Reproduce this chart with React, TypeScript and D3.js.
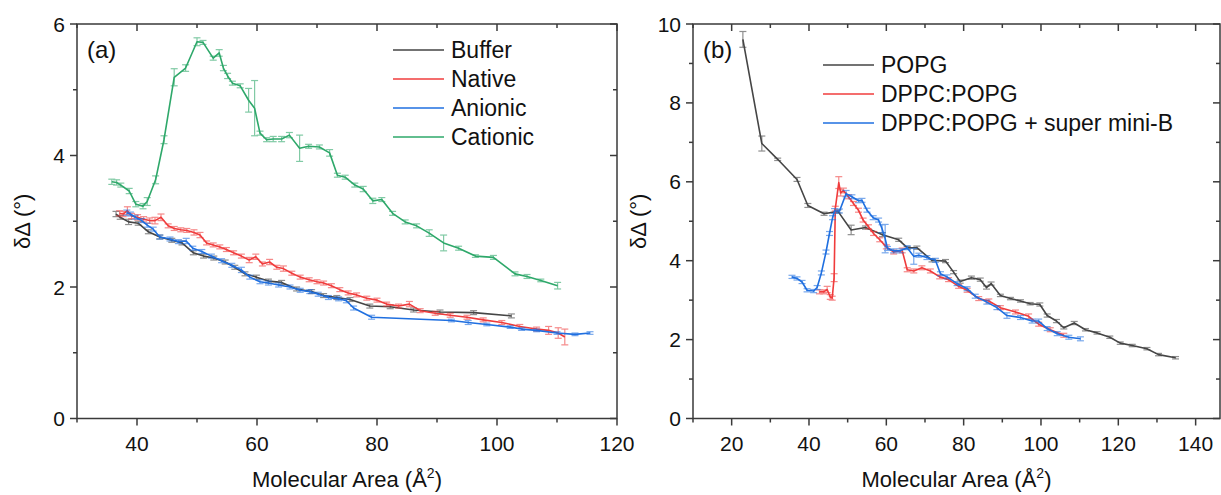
import React from 'react';
import * as d3 from 'd3';

type Pt = [number, number, number]; // [molecular area, δΔ, error]

// ---------- Panel (a) data ----------
const bufferA: Pt[] = [
  [36.5,3.11,0.04],[37.2,3.06,0.03],[38.6,2.99,0.04],[40.2,2.97,0.03],[41.9,2.84,0.03],[43.8,2.76,0.03],
  [45.8,2.71,0.03],[47.5,2.67,0.03],[49.4,2.52,0.03],[51.1,2.47,0.03],[52.8,2.44,0.03],[54.7,2.38,0.03],
  [56.3,2.30,0.03],[58.0,2.20,0.03],[59.9,2.15,0.03],[61.9,2.09,0.03],[64.1,2.07,0.03],[66.6,1.97,0.03],
  [69.1,1.93,0.03],[71.1,1.87,0.03],[73.3,1.84,0.03],[75.5,1.81,0.03],[78.8,1.71,0.03],[82.2,1.70,0.03],
  [86.1,1.65,0.03],[90.5,1.62,0.03],[96.1,1.61,0.03],[102.4,1.56,0.03]
];
const nativeA: Pt[] = [
  [37.1,3.12,0.04],[37.7,3.11,0.04],[38.4,3.16,0.06],[39.1,3.08,0.04],[40.1,3.06,0.04],[41.1,3.03,0.04],
  [42.1,3.01,0.04],[43.0,3.01,0.05],[44.0,3.06,0.05],[45.2,2.93,0.03],[46.2,2.89,0.03],[47.3,2.87,0.03],
  [48.3,2.86,0.03],[49.5,2.83,0.04],[50.5,2.79,0.04],[51.6,2.67,0.03],[52.7,2.64,0.03],[53.8,2.61,0.03],
  [54.9,2.57,0.03],[56.1,2.52,0.03],[57.4,2.47,0.03],[58.7,2.41,0.04],[59.8,2.46,0.04],[60.9,2.35,0.03],
  [62.1,2.38,0.04],[63.3,2.30,0.03],[64.4,2.28,0.04],[65.8,2.21,0.03],[67.2,2.15,0.03],[68.7,2.11,0.03],
  [70.0,2.08,0.03],[71.1,2.06,0.03],[72.4,2.02,0.03],[73.8,1.96,0.03],[75.2,1.91,0.03],[76.6,1.88,0.03],
  [78.3,1.83,0.03],[80.0,1.80,0.03],[81.6,1.74,0.03],[83.6,1.71,0.03],[85.4,1.74,0.04],[87.2,1.64,0.03],
  [89.7,1.60,0.03],[92.2,1.57,0.03],[95.0,1.54,0.03],[97.7,1.50,0.03],[100.8,1.46,0.03],[103.8,1.40,0.03],
  [106.6,1.36,0.03],[108.6,1.34,0.06],[110.2,1.30,0.08],[111.3,1.24,0.12]
];
const anionicA: Pt[] = [
  [38.3,3.13,0.04],[38.9,3.11,0.03],[39.7,3.06,0.03],[40.8,3.01,0.03],[41.7,2.94,0.03],[42.7,2.88,0.03],
  [43.8,2.76,0.03],[45.5,2.73,0.03],[46.9,2.69,0.03],[48.2,2.70,0.04],[49.3,2.59,0.03],[50.8,2.54,0.03],
  [52.4,2.47,0.03],[54.1,2.40,0.03],[55.8,2.33,0.03],[57.4,2.26,0.04],[58.8,2.15,0.03],[60.5,2.08,0.03],
  [61.9,2.06,0.03],[63.6,2.03,0.03],[65.5,2.00,0.03],[67.2,1.95,0.03],[68.8,1.93,0.03],[70.2,1.89,0.03],
  [71.9,1.84,0.03],[73.6,1.82,0.03],[74.9,1.79,0.03],[76.1,1.68,0.03],[79.1,1.54,0.03],[92.4,1.49,0.02],
  [95.2,1.46,0.03],[98.3,1.43,0.02],[102.2,1.39,0.02],[104.1,1.36,0.02],[106.6,1.34,0.02],[110.0,1.30,0.02],
  [113.0,1.28,0.02],[115.5,1.30,0.02]
];
const cationicA: Pt[] = [
  [35.8,3.60,0.04],[36.6,3.59,0.04],[37.3,3.55,0.03],[38.7,3.46,0.04],[39.8,3.26,0.04],[41.0,3.23,0.04],
  [41.7,3.30,0.06],[43.1,3.63,0.06],[44.5,4.24,0.06],[46.2,5.19,0.13],[48.1,5.33,0.05],[50.0,5.73,0.06],
  [51.0,5.72,0.03],[52.7,5.48,0.03],[53.7,5.56,0.05],[54.4,5.33,0.04],[55.1,5.21,0.04],[55.9,5.10,0.03],
  [57.2,5.06,0.03],[58.6,4.84,0.18],[59.6,4.72,0.42],[60.5,4.34,0.03],[61.6,4.24,0.03],[62.7,4.25,0.04],
  [64.1,4.25,0.04],[65.4,4.31,0.04],[67.1,4.11,0.20],[68.6,4.14,0.03],[70.4,4.13,0.03],[72.1,4.04,0.05],
  [73.4,3.70,0.03],[74.7,3.67,0.03],[76.3,3.55,0.03],[77.7,3.49,0.04],[79.3,3.31,0.04],[80.8,3.33,0.03],
  [82.6,3.12,0.03],[84.7,2.99,0.03],[86.6,2.93,0.03],[88.7,2.82,0.05],[91.1,2.67,0.12],[93.6,2.59,0.03],
  [96.4,2.47,0.02],[99.4,2.45,0.03],[103.0,2.20,0.03],[105.0,2.16,0.03],[107.3,2.10,0.02],[110.1,2.02,0.05]
];

// ---------- Panel (b) data ----------
const popgB: Pt[] = [
  [22.9,9.61,0.20],[27.8,6.97,0.19],[31.9,6.57,0.03],[36.9,6.06,0.05],[39.7,5.40,0.05],[43.9,5.19,0.04],
  [47.5,5.25,0.04],[50.9,4.78,0.12],[54.6,4.84,0.04],[59.0,4.66,0.05],[63.2,4.53,0.04],[65.4,4.33,0.03],
  [67.9,4.33,0.04],[71.8,4.01,0.04],[75.3,3.99,0.04],[77.4,3.71,0.04],[79.1,3.47,0.04],[82.0,3.57,0.04],
  [84.3,3.52,0.04],[85.9,3.32,0.04],[87.1,3.42,0.04],[89.5,3.12,0.03],[92.1,3.04,0.03],[94.7,2.98,0.03],
  [97.2,2.91,0.03],[99.7,2.89,0.04],[101.6,2.61,0.04],[104.0,2.47,0.04],[105.9,2.30,0.03],[108.6,2.42,0.04],
  [111.5,2.25,0.03],[114.5,2.17,0.03],[117.8,2.06,0.03],[120.5,1.91,0.03],[123.6,1.85,0.03],[127.4,1.77,0.03],
  [130.4,1.62,0.03],[134.8,1.54,0.03]
];
const dppcPopgB: Pt[] = [
  [42.7,3.21,0.05],[43.8,3.21,0.05],[44.7,3.27,0.08],[45.5,3.08,0.06],[46.0,3.05,0.05],[46.5,3.57,0.10],
  [46.8,5.32,0.06],[47.7,5.98,0.15],[48.2,5.72,0.08],[48.9,5.78,0.06],[50.2,5.62,0.05],[51.5,5.45,0.05],
  [52.8,5.28,0.05],[54.0,5.03,0.05],[55.4,4.86,0.05],[56.7,4.69,0.05],[58.3,4.53,0.05],[60.0,4.35,0.05],
  [61.9,4.22,0.05],[64.1,4.26,0.06],[65.4,3.77,0.05],[67.1,3.74,0.05],[69.2,3.82,0.05],[71.4,3.74,0.05],
  [73.8,3.59,0.05],[76.1,3.52,0.05],[78.7,3.35,0.05],[80.9,3.25,0.05],[83.9,3.04,0.05],[86.5,2.98,0.05],
  [89.5,2.81,0.05],[93.4,2.70,0.05],[96.8,2.59,0.06],[99.4,2.39,0.05],[102.4,2.25,0.05],[105.9,2.11,0.05]
];
const miniBB: Pt[] = [
  [35.6,3.59,0.04],[36.9,3.55,0.04],[38.2,3.46,0.04],[39.5,3.25,0.04],[41.2,3.23,0.04],[42.1,3.32,0.05],
  [43.2,3.69,0.05],[44.4,4.22,0.05],[45.3,4.69,0.05],[46.1,5.09,0.05],[46.6,5.26,0.06],[47.9,5.26,0.05],
  [49.6,5.70,0.08],[51.1,5.62,0.05],[52.8,5.52,0.05],[53.7,5.53,0.05],[55.0,5.28,0.05],[56.6,5.09,0.05],
  [58.0,5.03,0.05],[58.9,4.81,0.10],[59.7,4.56,0.36],[60.3,4.31,0.05],[61.9,4.25,0.05],[63.6,4.25,0.05],
  [65.4,4.33,0.05],[67.1,4.11,0.20],[68.4,4.14,0.05],[70.5,4.08,0.05],[72.7,4.01,0.05],[74.0,3.67,0.05],
  [75.7,3.59,0.05],[78.3,3.42,0.05],[80.9,3.29,0.05],[83.0,3.10,0.05],[86.0,2.95,0.05],[88.6,2.81,0.05],
  [91.2,2.61,0.07],[94.7,2.56,0.05],[97.7,2.47,0.05],[99.4,2.47,0.05],[101.6,2.28,0.05],[104.2,2.15,0.05],
  [107.2,2.06,0.05],[110.2,2.02,0.05]
];

// ---------- Axes / labels ----------
const xMajorA = [40, 60, 80, 100, 120];
const xMinorA = [30, 50, 70, 90, 110];
const yMajorA = [0, 2, 4, 6];
const yMinorA = [1, 3, 5];
const xMajorB = [20, 40, 60, 80, 100, 120, 140];
const xMinorB = [10, 30, 50, 70, 90, 110, 130];
const yMajorB = [0, 2, 4, 6, 8, 10];
const yMinorB = [1, 3, 5, 7, 9];
const namesA = ['Buffer', 'Native', 'Anionic', 'Cationic'];
const namesB = ['POPG', 'DPPC:POPG', 'DPPC:POPG + super mini-B'];

const FONT = '"Liberation Sans", Arial, Helvetica, sans-serif';
const AXIS = '#3a3a3a';
const C_BLACK = '#454545';
const C_RED = '#f03c3c';
const C_BLUE = '#1f6fe0';
const C_GREEN = '#2ea86a';

type Series = { name: string; data: Pt[]; color: string };

type PanelProps = {
  label: string;
  xDomain: [number, number];
  yDomain: [number, number];
  left: number; right: number; top: number; bottom: number;
  xMajor: number[]; xMinor: number[]; yMajor: number[]; yMinor: number[];
  series: Series[];
  legendX: number; legendY: number; legendDy: number;
};

function Panel(p: PanelProps) {
  const x = d3.scaleLinear().domain(p.xDomain).range([p.left, p.right]);
  const y = d3.scaleLinear().domain(p.yDomain).range([p.bottom, p.top]);
  const line = d3.line<Pt>().x(d => x(d[0])).y(d => y(d[1]));
  const cap = 3.5;
  const maj = 7, min = 4;
  return (
    <g>
      {/* series */}
      {p.series.map(s => (
        <g key={s.name}>
          <g stroke={s.color} strokeWidth={1.2} opacity={0.6}>
            {s.data.map((d, i) => {
              const cx = x(d[0]);
              const y1 = y(d[1] - d[2]);
              const y2 = y(d[1] + d[2]);
              return (
                <g key={i}>
                  <line x1={cx} x2={cx} y1={y1} y2={y2} />
                  <line x1={cx - cap} x2={cx + cap} y1={y1} y2={y1} />
                  <line x1={cx - cap} x2={cx + cap} y1={y2} y2={y2} />
                </g>
              );
            })}
          </g>
          <path d={line(s.data) || ''} fill="none" stroke={s.color} strokeWidth={1.6} strokeLinejoin="round" />
        </g>
      ))}
      {/* frame */}
      <rect x={p.left} y={p.top} width={p.right - p.left} height={p.bottom - p.top} fill="none" stroke={AXIS} strokeWidth={1.5} />
      {/* bottom ticks outward, top ticks inward */}
      {p.xMajor.map(v => (
        <g key={'xM' + v}>
          <line x1={x(v)} x2={x(v)} y1={p.bottom} y2={p.bottom + maj} stroke={AXIS} strokeWidth={1.5} />
          <line x1={x(v)} x2={x(v)} y1={p.top} y2={p.top + maj} stroke={AXIS} strokeWidth={1.5} />
          <text x={x(v)} y={p.bottom + 32} textAnchor="middle" fontSize={21} fontFamily={FONT} fill="#111">{v}</text>
        </g>
      ))}
      {p.xMinor.map(v => (
        <g key={'xm' + v}>
          <line x1={x(v)} x2={x(v)} y1={p.bottom} y2={p.bottom + min} stroke={AXIS} strokeWidth={1.5} />
          <line x1={x(v)} x2={x(v)} y1={p.top} y2={p.top + min} stroke={AXIS} strokeWidth={1.5} />
        </g>
      ))}
      {p.yMajor.map(v => (
        <g key={'yM' + v}>
          <line x1={p.left} x2={p.left - maj} y1={y(v)} y2={y(v)} stroke={AXIS} strokeWidth={1.5} />
          <line x1={p.right} x2={p.right - maj} y1={y(v)} y2={y(v)} stroke={AXIS} strokeWidth={1.5} />
          <text x={p.left - 12} y={y(v) + 7.5} textAnchor="end" fontSize={21} fontFamily={FONT} fill="#111">{v}</text>
        </g>
      ))}
      {p.yMinor.map(v => (
        <g key={'ym' + v}>
          <line x1={p.left} x2={p.left - min} y1={y(v)} y2={y(v)} stroke={AXIS} strokeWidth={1.5} />
          <line x1={p.right} x2={p.right - min} y1={y(v)} y2={y(v)} stroke={AXIS} strokeWidth={1.5} />
        </g>
      ))}
      {/* axis titles */}
      <text x={(p.left + p.right) / 2} y={487} textAnchor="middle" fontSize={22} fontFamily={FONT} fill="#111">
        Molecular Area (Å<tspan dy={-9} fontSize={14}>2</tspan><tspan dy={9}>)</tspan>
      </text>
      <text transform={`translate(${p.left - 47},${(p.top + p.bottom) / 2}) rotate(-90)`} textAnchor="middle" fontSize={22} fontFamily={FONT} fill="#111">
        δΔ (°)
      </text>
      {/* panel label */}
      <text x={p.left + 10} y={58} fontSize={24} fontFamily={FONT} fill="#111">{p.label}</text>
      {/* legend */}
      {p.series.map((s, i) => (
        <g key={'lg' + s.name}>
          <line x1={p.legendX} x2={p.legendX + 51} y1={p.legendY + i * p.legendDy} y2={p.legendY + i * p.legendDy} stroke={s.color} strokeWidth={1.6} />
          <text x={p.legendX + 58} y={p.legendY + i * p.legendDy + 8} fontSize={23} fontFamily={FONT} fill="#111">{s.name}</text>
        </g>
      ))}
    </g>
  );
}

export default function App() {
  const seriesA: Series[] = [
    { name: namesA[0], data: bufferA, color: C_BLACK },
    { name: namesA[1], data: nativeA, color: C_RED },
    { name: namesA[2], data: anionicA, color: C_BLUE },
    { name: namesA[3], data: cationicA, color: C_GREEN },
  ];
  const seriesB: Series[] = [
    { name: namesB[0], data: popgB, color: C_BLACK },
    { name: namesB[1], data: dppcPopgB, color: C_RED },
    { name: namesB[2], data: miniBB, color: C_BLUE },
  ];
  return (
    <svg width={1221} height={495} style={{ position: 'absolute', left: 0, top: 0, background: '#fff' }}>
      <rect width={1221} height={495} fill="#fff" />
      <Panel label="(a)" xDomain={[30, 120]} yDomain={[0, 6]} left={77} right={617} top={24} bottom={418.5}
        xMajor={xMajorA} xMinor={xMinorA} yMajor={yMajorA} yMinor={yMinorA} series={seriesA}
        legendX={393} legendY={50} legendDy={29} />
      <Panel label="(b)" xDomain={[10, 146.3]} yDomain={[0, 10]} left={693} right={1220} top={24} bottom={418.5}
        xMajor={xMajorB} xMinor={xMinorB} yMajor={yMajorB} yMinor={yMinorB} series={seriesB}
        legendX={823} legendY={65} legendDy={29} />
    </svg>
  );
}
